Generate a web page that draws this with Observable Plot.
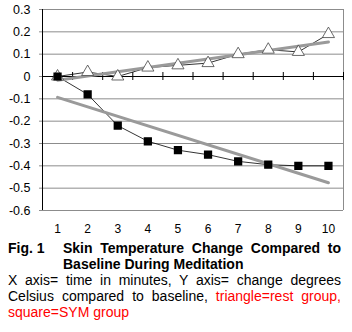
<!DOCTYPE html>
<html>
<head>
<meta charset="utf-8">
<script src="https://cdn.jsdelivr.net/npm/d3@7"></script>
<script src="https://cdn.jsdelivr.net/npm/@observablehq/plot@0.6"></script>
<style>
  html, body { margin: 0; padding: 0; background: #fff; }
  body { width: 352px; height: 332px; overflow: hidden; font-family: "Liberation Sans", Arial, sans-serif; color: #000; }
  #chart svg { display: block; }
  .cap { width: 333px; margin-left: 8px; font-size: 14px; line-height: 16px; }
  .title { display: flex; font-weight: bold; }
  .title .fig { width: 55px; flex: none; }
  .title .txt { flex: 1; text-align: justify; }
  .just { text-align: justify; text-align-last: justify; }
  .row { display: flex; justify-content: space-between; }
  .red { color: #ff0000; }
</style>
</head>
<body>
<div id="chart"></div>
<div class="cap">
  <div class="title"><div class="fig">Fig. 1</div><div class="txt">Skin Temperature Change Compared to Baseline During Meditation</div></div>
  <div class="just">X axis= time in minutes, Y axis= change degrees</div>
  <div class="row"><span>Celsius</span><span>compared</span><span>to</span><span>baseline,</span><span class="red">triangle=rest</span><span class="red">group,</span></div>
  <div class="red">square=SYM group</div>
</div>
<script>
const minutes = [1, 2, 3, 4, 5, 6, 7, 8, 9, 10];
const restGroup = [0, 0.02, 0, 0.04, 0.05, 0.06, 0.10, 0.12, 0.11, 0.19];
const symGroup = [0, -0.08, -0.22, -0.29, -0.33, -0.35, -0.38, -0.395, -0.40, -0.40];
const yTicks = [0.3, 0.2, 0.1, 0, -0.1, -0.2, -0.3, -0.4, -0.5, -0.6];
const categoryEdges = [0.5, 1.5, 2.5, 3.5, 4.5, 5.5, 6.5, 7.5, 8.5, 9.5, 10.5];

const rest = minutes.map((m, i) => ({x: m, y: restGroup[i]}));
const sym = minutes.map((m, i) => ({x: m, y: symGroup[i]}));

const chart = Plot.plot({
  width: 352,
  height: 240,
  marginLeft: 42,
  marginRight: 9,
  marginTop: 9,
  marginBottom: 30,
  style: {fontFamily: "Liberation Sans, Arial, sans-serif", fontSize: "12px", color: "#000", background: "#fff"},
  x: {type: "linear", domain: [0.5, 10.5]},
  y: {domain: [-0.6, 0.3]},
  marks: [
    Plot.gridY(yTicks.filter(d => d !== 0), {stroke: "#8c8c8c", strokeOpacity: 1, strokeWidth: 1}),
    Plot.ruleX([10.5], {stroke: "#8c8c8c", strokeWidth: 1}),
    Plot.ruleX([0.5], {stroke: "#000", strokeWidth: 1}),
    Plot.ruleY([0], {stroke: "#000", strokeWidth: 1}),
    Plot.ruleX(categoryEdges, {x: d => d, y1: 0, y2: 0, insetTop: -4, insetBottom: -4, stroke: "#000"}),
    Plot.axisY({ticks: yTicks, tickFormat: d => String(+d.toFixed(1)), tickSize: 3, tickPadding: 9, fontSize: 12.5, label: null, stroke: "#8c8c8c"}),
    Plot.axisX({ticks: minutes, tickFormat: d => String(d), tickSize: 0, tickPadding: 14, fontSize: 12, label: null}),
    Plot.line(rest, {x: "x", y: "y", stroke: "#000", strokeWidth: 0.8}),
    Plot.line(sym, {x: "x", y: "y", stroke: "#000", strokeWidth: 0.8}),
    Plot.linearRegressionY(rest, {x: "x", y: "y", stroke: "#9a9a9a", strokeWidth: 3, ci: 0}),
    Plot.linearRegressionY(sym, {x: "x", y: "y", stroke: "#9a9a9a", strokeWidth: 3, ci: 0}),
    Plot.dot(rest, {x: "x", y: "y", symbol: "triangle", r: 4.5, fill: "#fff", stroke: "#444", strokeWidth: 0.8}),
    Plot.dot(sym, {x: "x", y: "y", symbol: "square", r: 3.8, fill: "#000", stroke: "#000"})
  ]
});
document.getElementById("chart").appendChild(chart);
</script>
</body>
</html>
